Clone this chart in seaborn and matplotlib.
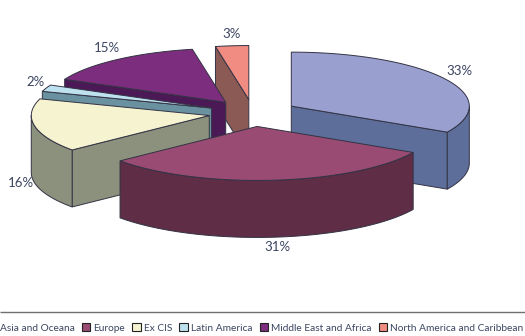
import numpy as np
import matplotlib
matplotlib.use("Agg")
import matplotlib.pyplot as plt
from matplotlib.patches import Patch
import seaborn as sns

# Regional shares, in percent, clockwise from twelve o'clock
regions = ["Asia and Oceana", "Europe", "Ex CIS", "Latin America",
           "Middle East and Africa", "North America and Caribbean"]
shares = [33, 31, 16, 2, 15, 3]

top_colors = ["#99A0D0", "#994B73", "#F5F3D0", "#BEE1F0", "#7D2D7D", "#F08C82"]
side_colors = ["#5D6E9B", "#5F2D46", "#8C917D", "#69919F", "#4B1955", "#8C5A55"]

# Pie geometry in pixels
CX, CY = 253, 113
RX, RY = 178, 54
DEPTH = 57
EXPLODE = 0.25
EDGE = "#333344"
TEXT = "#3A4560"

# Back-to-front drawing order
draw_order = [5, 4, 3, 2, 0, 1]
label_xy = [(459, 71), (277, 247), (21, 183), (36, 82), (107, 48), (232, 34)]

sns.set_theme(style="white")
plt.rcParams["font.family"] = ["Lato", "DejaVu Sans"]

fig = plt.figure(figsize=(5.25, 3.36), dpi=100)
ax = fig.add_axes([0, 0, 1, 1])
ax.set_xlim(0, 525)
ax.set_ylim(336, 0)
ax.axis("off")


def rim_point(apex, deg):
    t = np.radians(deg)
    return apex[0] + RX * np.sin(t), apex[1] - RY * np.cos(t)


def arc(apex, a0, a1):
    t = np.radians(np.linspace(a0, a1, 60))
    return np.column_stack([apex[0] + RX * np.sin(t), apex[1] - RY * np.cos(t)])


def wall(apex, deg, color):
    p = rim_point(apex, deg)
    quad = [apex, p, (p[0], p[1] + DEPTH), (apex[0], apex[1] + DEPTH)]
    ax.fill(*zip(*quad), facecolor=color, edgecolor=EDGE, lw=0.7)


edges = np.cumsum([0] + shares) * 3.6
for i in draw_order:
    a0, a1 = edges[i], edges[i + 1]
    mid = np.radians((a0 + a1) / 2)
    apex = (CX + EXPLODE * RX * np.sin(mid), CY - EXPLODE * RY * np.cos(mid))

    if 180 < a0 < 360:
        wall(apex, a0, side_colors[i])
    if 0 < a1 < 180:
        wall(apex, a1, side_colors[i])

    lo, hi = max(a0, 90), min(a1, 270)
    if lo < hi:
        outer = arc(apex, lo, hi)
        lower = outer[::-1] + [0, DEPTH]
        ring = np.vstack([outer, lower])
        ax.fill(ring[:, 0], ring[:, 1], facecolor=side_colors[i], edgecolor=EDGE, lw=0.7)

    cap = np.vstack([[apex], arc(apex, a0, a1)])
    ax.fill(cap[:, 0], cap[:, 1], facecolor=top_colors[i], edgecolor=EDGE, lw=0.7)

for share, (x, y) in zip(shares, label_xy):
    ax.text(x, y, f"{share}%", ha="center", va="center", fontsize=9.5, color=TEXT)

# Rule above the legend strip
ax.plot([0, 525], [311.5, 311.5], color="#707070", lw=1.0, solid_capstyle="butt")

handles = [Patch(facecolor=c, edgecolor="#222222", lw=0.8) for c in top_colors]
ax.legend(handles, regions, ncols=6, loc="center left",
          bbox_to_anchor=(-12, 328), bbox_transform=ax.transData,
          frameon=False, fontsize=7.3, labelcolor=TEXT,
          handlelength=0.85, handleheight=0.85, handletextpad=0.3,
          columnspacing=0.7, borderpad=0, borderaxespad=0)

fig.savefig("out.png", dpi=100, facecolor="white")
